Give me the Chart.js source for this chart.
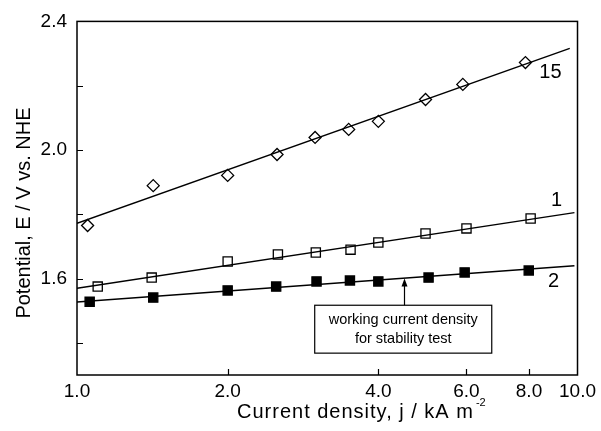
<!DOCTYPE html>
<html>
<head>
<meta charset="utf-8">
<script src="https://cdn.jsdelivr.net/npm/chart.js@4.4.7/dist/chart.umd.js"></script>
<style>
  html, body { margin: 0; padding: 0; background: #fff; }
  #wrap { width: 601px; height: 431px; }
</style>
</head>
<body>
<div id="wrap"><canvas id="c" width="601" height="431"></canvas></div>
<script>
// current density j / kA m-2  and potential E / V vs. NHE
const jRun15 = [1.05, 1.42, 2.0, 2.51, 2.99, 3.49, 4.0, 4.97, 5.9, 7.87];
const eRun15 = [1.765, 1.889, 1.921, 1.986, 2.039, 2.064, 2.089, 2.157, 2.204, 2.272];
const jRun1 = [1.10, 1.41, 2.0, 2.52, 3.0, 3.52, 4.0, 4.97, 6.0, 8.06];
const eRun1 = [1.575, 1.603, 1.653, 1.675, 1.681, 1.690, 1.712, 1.740, 1.756, 1.787];
const jRun2 = [1.06, 1.42, 2.0, 2.50, 3.01, 3.51, 4.0, 5.04, 5.95, 7.99];
const eRun2 = [1.528, 1.541, 1.563, 1.575, 1.591, 1.594, 1.591, 1.603, 1.619, 1.625];

// fitted Tafel lines (end points)
const jFit15 = [1.0, 9.65];
const eFit15 = [1.772, 2.316];
const jFit = [1.0, 9.86];
const eFit1 = [1.570, 1.805];
const eFit2 = [1.527, 1.640];

const xTicks = [1, 2, 4, 6, 8, 10];
const yTicks = [1.4, 1.6, 1.8, 2.0, 2.2, 2.4];
const yLabelled = [1.6, 2.0, 2.4];

const FONT = "'Liberation Sans', Arial, Helvetica, sans-serif";

function pts(xs, ys) {
  return xs.map((v, i) => ({ x: v, y: ys[i] }));
}

function fitLine(xs, ys) {
  return {
    type: 'line',
    data: pts(xs, ys),
    borderColor: '#000',
    borderWidth: 1.4,
    pointRadius: 0,
    fill: false,
    order: 2
  };
}

// frame, inward ticks, axis titles and the in-plot notes
const decorations = {
  id: 'decorations',
  afterDraw(chart) {
    const { ctx, chartArea: a, scales: { x, y } } = chart;
    ctx.save();
    ctx.strokeStyle = '#000';
    ctx.fillStyle = '#000';
    ctx.lineWidth = 1.5;
    ctx.strokeRect(a.left, a.top, a.right - a.left, a.bottom - a.top);

    // ticks pointing into the plot
    ctx.lineWidth = 1.2;
    ctx.beginPath();
    xTicks.slice(1, -1).forEach(v => {
      const px = Math.round(x.getPixelForValue(v)) + 0.5;
      ctx.moveTo(px, a.bottom);
      ctx.lineTo(px, a.bottom - 6);
    });
    yTicks.slice(0, -1).forEach(v => {
      const py = Math.round(y.getPixelForValue(v)) + 0.5;
      ctx.moveTo(a.left, py);
      ctx.lineTo(a.left + 6, py);
    });
    ctx.stroke();

    // axis titles
    ctx.font = '20px ' + FONT;
    ctx.textBaseline = 'middle';
    ctx.save();
    ctx.translate(24, 213);
    ctx.rotate(-Math.PI / 2);
    ctx.textAlign = 'center';
    ctx.fillText('Potential, E / V vs. NHE', 0, 0);
    ctx.restore();

    ctx.textAlign = 'left';
    const xt = 'Current density, j / kA m';
    const sp = 1;
    const xEnd = 237 + ctx.measureText(xt).width + sp * xt.length;
    ctx.letterSpacing = sp + 'px';
    ctx.fillText(xt, 237, 412);
    ctx.letterSpacing = '0px';
    ctx.font = '11px ' + FONT;
    ctx.fillText('-2', xEnd + 2, 403);

    // curve labels
    ctx.font = '20px ' + FONT;
    ctx.textAlign = 'center';
    ctx.fillText('15', x.getPixelForValue(8.83), y.getPixelForValue(2.242));
    ctx.fillText('1', x.getPixelForValue(9.08), y.getPixelForValue(1.842));
    ctx.fillText('2', x.getPixelForValue(8.96), y.getPixelForValue(1.591));

    // note box with arrow
    const bx0 = x.getPixelForValue(2.985), bx1 = x.getPixelForValue(6.74);
    const by0 = y.getPixelForValue(1.517), by1 = y.getPixelForValue(1.368);
    ctx.lineWidth = 1.2;
    ctx.fillStyle = '#fff';
    ctx.fillRect(bx0, by0, bx1 - bx0, by1 - by0);
    ctx.strokeRect(bx0, by0, bx1 - bx0, by1 - by0);
    ctx.fillStyle = '#000';
    const ax = Math.round(x.getPixelForValue(4.495)) + 0.5;
    const tip = y.getPixelForValue(1.600);
    ctx.beginPath();
    ctx.moveTo(ax, by0);
    ctx.lineTo(ax, tip + 6);
    ctx.stroke();
    ctx.beginPath();
    ctx.moveTo(ax, tip);
    ctx.lineTo(ax - 3, tip + 8);
    ctx.lineTo(ax + 3, tip + 8);
    ctx.closePath();
    ctx.fill();

    ctx.font = '14.5px ' + FONT;
    const cx = (bx0 + bx1) / 2;
    ctx.fillText('working current density', cx, y.getPixelForValue(1.470));
    ctx.fillText('for stability test', cx, y.getPixelForValue(1.411));
    ctx.restore();
  }
};

new Chart(document.getElementById('c'), {
  type: 'scatter',
  data: {
    datasets: [
      {
        label: '15',
        data: pts(jRun15, eRun15),
        pointStyle: 'rectRot',
        pointRadius: 6,
        borderColor: '#000',
        backgroundColor: 'rgba(0,0,0,0)',
        borderWidth: 1.3,
        order: 1
      },
      {
        label: '1',
        data: pts(jRun1, eRun1),
        pointStyle: 'rect',
        pointRadius: 6.5,
        borderColor: '#000',
        backgroundColor: 'rgba(0,0,0,0)',
        borderWidth: 1.3,
        order: 1
      },
      {
        label: '2',
        data: pts(jRun2, eRun2),
        pointStyle: 'rect',
        pointRadius: 6.5,
        borderColor: '#000',
        backgroundColor: '#000',
        borderWidth: 1.3,
        order: 1
      },
      fitLine(jFit15, eFit15),
      fitLine(jFit, eFit1),
      fitLine(jFit, eFit2)
    ]
  },
  options: {
    responsive: false,
    animation: false,
    devicePixelRatio: 1,
    layout: { padding: { top: 20, right: 22, left: 0, bottom: 0 } },
    plugins: {
      legend: { display: false },
      tooltip: { enabled: false }
    },
    scales: {
      x: {
        type: 'logarithmic',
        position: 'bottom',
        min: 1,
        max: 10,
        afterBuildTicks: s => { s.ticks = xTicks.map(v => ({ value: v })); },
        afterFit: s => { s.height = 56; },
        grid: { display: false, drawTicks: false },
        border: { display: false },
        ticks: {
          autoSkip: false,
          maxRotation: 0,
          padding: 5,
          color: '#000',
          font: { family: FONT, size: 19 },
          callback: v => Number(v).toFixed(1)
        }
      },
      y: {
        type: 'linear',
        min: 1.3,
        max: 2.4,
        afterBuildTicks: s => { s.ticks = yTicks.map(v => ({ value: v })); },
        afterFit: s => { s.width = 77; },
        grid: { display: false, drawTicks: false },
        border: { display: false },
        ticks: {
          padding: 10,
          color: '#000',
          font: { family: FONT, size: 19 },
          callback: v => yLabelled.some(t => Math.abs(t - v) < 1e-6) ? Number(v).toFixed(1) : ''
        }
      }
    }
  },
  plugins: [decorations]
});
</script>
</body>
</html>
